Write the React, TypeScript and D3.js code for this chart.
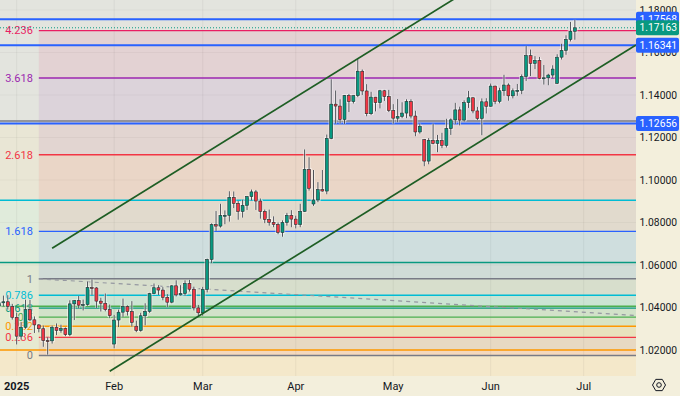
import React, { useEffect } from "react";
import * as d3 from "d3";

// daily EUR/USD bars
const dates = [
  "2024-12-23", "2024-12-24", "2024-12-26", "2024-12-27", "2024-12-30", "2024-12-31",
  "2025-01-02", "2025-01-03", "2025-01-06", "2025-01-07", "2025-01-08", "2025-01-09", "2025-01-10",
  "2025-01-13", "2025-01-14", "2025-01-15", "2025-01-16", "2025-01-17", "2025-01-20", "2025-01-21",
  "2025-01-22", "2025-01-23", "2025-01-24", "2025-01-27", "2025-01-28", "2025-01-29", "2025-01-30",
  "2025-01-31", "2025-02-03", "2025-02-04", "2025-02-05", "2025-02-06", "2025-02-07", "2025-02-10",
  "2025-02-11", "2025-02-12", "2025-02-13", "2025-02-14", "2025-02-17", "2025-02-18", "2025-02-19",
  "2025-02-20", "2025-02-21", "2025-02-24", "2025-02-25", "2025-02-26", "2025-02-27", "2025-02-28",
  "2025-03-03", "2025-03-04", "2025-03-05", "2025-03-06", "2025-03-07", "2025-03-10", "2025-03-11",
  "2025-03-12", "2025-03-13", "2025-03-14", "2025-03-17", "2025-03-18", "2025-03-19", "2025-03-20",
  "2025-03-21", "2025-03-24", "2025-03-25", "2025-03-26", "2025-03-27", "2025-03-28", "2025-03-31",
  "2025-04-01", "2025-04-02", "2025-04-03", "2025-04-04", "2025-04-07", "2025-04-08", "2025-04-09",
  "2025-04-10", "2025-04-11", "2025-04-14", "2025-04-15", "2025-04-16", "2025-04-17", "2025-04-18",
  "2025-04-21", "2025-04-22", "2025-04-23", "2025-04-24", "2025-04-25", "2025-04-28", "2025-04-29",
  "2025-04-30", "2025-05-01", "2025-05-02", "2025-05-05", "2025-05-06", "2025-05-07", "2025-05-08",
  "2025-05-09", "2025-05-12", "2025-05-13", "2025-05-14", "2025-05-15", "2025-05-16", "2025-05-19",
  "2025-05-20", "2025-05-21", "2025-05-22", "2025-05-23", "2025-05-26", "2025-05-27", "2025-05-28",
  "2025-05-29", "2025-05-30", "2025-06-02", "2025-06-03", "2025-06-04", "2025-06-05", "2025-06-06",
  "2025-06-09", "2025-06-10", "2025-06-11", "2025-06-12", "2025-06-13", "2025-06-16", "2025-06-17",
  "2025-06-18", "2025-06-19", "2025-06-20", "2025-06-23", "2025-06-24", "2025-06-25", "2025-06-26",
  "2025-06-27",
];

const opens = [
  1.0430, 1.0405, 1.0407, 1.0422, 1.0427, 1.0405,
  1.0354, 1.0265, 1.0307, 1.0390, 1.0342, 1.0318, 1.0300,
  1.0244, 1.0243, 1.0307, 1.0292, 1.0301, 1.0272, 1.0417,
  1.0432, 1.0411, 1.0414, 1.0494, 1.0492, 1.0430, 1.0420,
  1.0390, 1.0228, 1.0341, 1.0378, 1.0405, 1.0381, 1.0312,
  1.0292, 1.0361, 1.0382, 1.0465, 1.0493, 1.0482, 1.0448,
  1.0425, 1.0502, 1.0459, 1.0466, 1.0513, 1.0486, 1.0398,
  1.0375, 1.0485, 1.0626, 1.0790, 1.0783, 1.0833, 1.0834,
  1.0918, 1.0890, 1.0852, 1.0881, 1.0922, 1.0944, 1.0901,
  1.0852, 1.0815, 1.0801, 1.0791, 1.0753, 1.0800, 1.0834,
  1.0816, 1.0791, 1.0852, 1.1050, 1.0887, 1.0906, 1.0955,
  1.0948, 1.1196, 1.1357, 1.1348, 1.1285, 1.1398, 1.1369,
  1.1397, 1.1512, 1.1419, 1.1312, 1.1390, 1.1364, 1.1420,
  1.1393, 1.1327, 1.1291, 1.1299, 1.1315, 1.1369, 1.1301,
  1.1226, 1.1190, 1.1089, 1.1187, 1.1172, 1.1186, 1.1163,
  1.1242, 1.1283, 1.1330, 1.1282, 1.1364, 1.1387, 1.1325,
  1.1290, 1.1368, 1.1347, 1.1442, 1.1370, 1.1420, 1.1447,
  1.1396, 1.1420, 1.1422, 1.1487, 1.1585, 1.1549, 1.1563,
  1.1478, 1.1481, 1.1494, 1.1455, 1.1578, 1.1610, 1.1662,
  1.1700,
];

const highs = [
  1.0444, 1.0412, 1.0440, 1.0456, 1.0458, 1.0417,
  1.0376, 1.0332, 1.0437, 1.0436, 1.0358, 1.0322, 1.0315,
  1.0260, 1.0315, 1.0325, 1.0319, 1.0306, 1.0434, 1.0435,
  1.0454, 1.0437, 1.0522, 1.0533, 1.0496, 1.0446, 1.0466,
  1.0414, 1.0365, 1.0390, 1.0442, 1.0410, 1.0430, 1.0338,
  1.0375, 1.0420, 1.0469, 1.0513, 1.0505, 1.0496, 1.0463,
  1.0505, 1.0528, 1.0505, 1.0528, 1.0530, 1.0498, 1.0412,
  1.0497, 1.0630, 1.0796, 1.0854, 1.0888, 1.0857, 1.0947,
  1.0946, 1.0901, 1.0907, 1.0925, 1.0955, 1.0953, 1.0913,
  1.0861, 1.0861, 1.0829, 1.0800, 1.0810, 1.0845, 1.0858,
  1.0832, 1.0888, 1.1144, 1.1107, 1.1047, 1.0990, 1.1047,
  1.1214, 1.1474, 1.1421, 1.1380, 1.1400, 1.1405, 1.1398,
  1.1573, 1.1520, 1.1451, 1.1415, 1.1391, 1.1424, 1.1424,
  1.1424, 1.1357, 1.1381, 1.1366, 1.1380, 1.1380, 1.1326,
  1.1266, 1.1193, 1.1197, 1.1265, 1.1212, 1.1222, 1.1288,
  1.1290, 1.1363, 1.1345, 1.1375, 1.1419, 1.1389, 1.1344,
  1.1384, 1.1385, 1.1454, 1.1444, 1.1434, 1.1495, 1.1455,
  1.1431, 1.1452, 1.1497, 1.1631, 1.1614, 1.1583, 1.1579,
  1.1541, 1.1500, 1.1540, 1.1592, 1.1641, 1.1681, 1.1744,
  1.1754,
];

const lows = [
  1.0390, 1.0385, 1.0396, 1.0405, 1.0390, 1.0343,
  1.0226, 1.0250, 1.0300, 1.0336, 1.0280, 1.0283, 1.0215,
  1.0178, 1.0230, 1.0270, 1.0281, 1.0265, 1.0265, 1.0341,
  1.0396, 1.0386, 1.0408, 1.0458, 1.0398, 1.0381, 1.0382,
  1.0350, 1.0208, 1.0308, 1.0355, 1.0362, 1.0310, 1.0284,
  1.0286, 1.0316, 1.0375, 1.0462, 1.0459, 1.0434, 1.0402,
  1.0420, 1.0452, 1.0456, 1.0455, 1.0475, 1.0386, 1.0359,
  1.0361, 1.0471, 1.0609, 1.0760, 1.0776, 1.0792, 1.0804,
  1.0868, 1.0813, 1.0823, 1.0859, 1.0904, 1.0859, 1.0818,
  1.0797, 1.0785, 1.0778, 1.0745, 1.0733, 1.0785, 1.0778,
  1.0772, 1.0778, 1.0850, 1.0950, 1.0878, 1.0896, 1.0945,
  1.0933, 1.1192, 1.1265, 1.1265, 1.1264, 1.1320, 1.1360,
  1.1390, 1.1400, 1.1300, 1.1306, 1.1323, 1.1337, 1.1372,
  1.1320, 1.1265, 1.1272, 1.1291, 1.1291, 1.1290, 1.1206,
  1.1218, 1.1065, 1.1074, 1.1168, 1.1131, 1.1150, 1.1153,
  1.1212, 1.1263, 1.1257, 1.1274, 1.1339, 1.1314, 1.1282,
  1.1211, 1.1313, 1.1345, 1.1357, 1.1361, 1.1396, 1.1373,
  1.1384, 1.1396, 1.1404, 1.1466, 1.1489, 1.1522, 1.1474,
  1.1449, 1.1446, 1.1480, 1.1452, 1.1567, 1.1589, 1.1652,
  1.1660,
];

const closes = [
  1.0405, 1.0407, 1.0422, 1.0427, 1.0405, 1.0354,
  1.0265, 1.0307, 1.0390, 1.0342, 1.0318, 1.0300, 1.0244,
  1.0243, 1.0307, 1.0292, 1.0301, 1.0272, 1.0417, 1.0432,
  1.0411, 1.0414, 1.0494, 1.0492, 1.0430, 1.0420, 1.0390,
  1.0362, 1.0341, 1.0378, 1.0405, 1.0381, 1.0330, 1.0292,
  1.0361, 1.0382, 1.0465, 1.0493, 1.0482, 1.0448, 1.0425,
  1.0502, 1.0459, 1.0466, 1.0513, 1.0486, 1.0398, 1.0375,
  1.0485, 1.0626, 1.0790, 1.0783, 1.0833, 1.0834, 1.0918,
  1.0890, 1.0852, 1.0881, 1.0922, 1.0944, 1.0901, 1.0852,
  1.0815, 1.0801, 1.0791, 1.0753, 1.0800, 1.0834, 1.0816,
  1.0791, 1.0852, 1.1050, 1.0961, 1.0906, 1.0955, 1.0948,
  1.1196, 1.1357, 1.1348, 1.1285, 1.1398, 1.1369, 1.1397,
  1.1512, 1.1419, 1.1312, 1.1390, 1.1364, 1.1420, 1.1393,
  1.1327, 1.1291, 1.1299, 1.1315, 1.1369, 1.1301, 1.1226,
  1.1252, 1.1089, 1.1187, 1.1172, 1.1186, 1.1163, 1.1242,
  1.1283, 1.1330, 1.1282, 1.1364, 1.1387, 1.1325, 1.1290,
  1.1368, 1.1347, 1.1442, 1.1370, 1.1420, 1.1447, 1.1396,
  1.1420, 1.1422, 1.1487, 1.1585, 1.1549, 1.1563, 1.1478,
  1.1481, 1.1494, 1.1522, 1.1578, 1.1610, 1.1662, 1.1700,
  1.17163,
];

// price axis ticks
const priceTicks = [1.02, 1.04, 1.06, 1.08, 1.1, 1.12, 1.14, 1.16, 1.18];

// time axis
const timeLabels = ["2025", "Feb", "Mar", "Apr", "May", "Jun", "Jul"];
const timeDates = ["2025-01-02", "2025-02-03", "2025-03-03", "2025-04-01", "2025-05-01", "2025-06-02", "2025-07-01"];

// fib levels (shared by both fib tools)
const fibLevels = [0, 0.236, 0.382, 0.5, 0.618, 0.786, 1, 1.618, 2.618, 3.618, 4.236];
const fibColors = ["#787b86", "#f23645", "#ff9800", "#4caf50", "#089981", "#00bcd4", "#787b86", "#2962ff", "#f23645", "#9c27b0", "#e91e63"];

// trend-based extension (labelled, starts Jan 9)
const fibExtStart = "2025-01-09";
const fibExtPrices = [1.01741, 1.0535];
// retracement behind it, extended both ways, no labels
const fibRetPrices = [0.95336, 1.12776];

// horizontal lines with axis labels
const hLinePrices = [1.17568, 1.16341, 1.12656];

// channel: two parallel rays, [date, price]
const channelUpper: [string, number][] = [["2025-01-14", 1.0679], ["2025-06-13", 1.2075]];
const channelLower: [string, number][] = [["2025-01-31", 1.01], ["2025-06-27", 1.1457]];
// dashed trend line of the extension
const dashedLine: [string, number][] = [["2025-01-09", 1.0535], ["2025-06-27", 1.038]];

const W = 680;
const H = 396;
const plotW = 636;
const plotH = 376;
const font = "Roboto, 'Liberation Sans', sans-serif";

const parse = d3.utcParse("%Y-%m-%d");

function barIndex(d: string) {
  const i = dates.indexOf(d);
  if (i >= 0) return i;
  const last = parse(dates[dates.length - 1])!;
  const target = parse(d)!;
  const days = d3.utcDay
    .range(d3.utcDay.offset(last, 1), d3.utcDay.offset(target, 1))
    .filter((t) => t.getUTCDay() % 6 !== 0);
  return dates.length - 1 + days.length;
}

export default function App() {
  useEffect(() => {
    document.body.style.margin = "0";
  }, []);

  const x = d3.scaleLinear().domain([2.235, 145.8]).range([0, plotW]);
  const y = d3.scaleLinear().domain([1.00776, 1.18471]).range([plotH, 0]);
  const step = x(1) - x(0);
  const bodyW = step * 0.68;

  const fibPrice = (p: number[], l: number) => p[0] + l * (p[1] - p[0]);

  // ray from two anchors, extended to the right edge
  const ray = (pts: [string, number][]) => {
    const i0 = barIndex(pts[0][0]);
    const i1 = barIndex(pts[1][0]);
    const slope = (pts[1][1] - pts[0][1]) / (i1 - i0);
    const iEnd = x.invert(plotW);
    return { x1: x(i0), y1: y(pts[0][1]), x2: x(iEnd), y2: y(pts[0][1] + slope * (iEnd - i0)) };
  };

  const extX = x(barIndex(fibExtStart));

  const fibBands = (prices: number[], x0: number, alpha: number, key: string) =>
    fibLevels.slice(1).map((l, k) => {
      const yTop = y(fibPrice(prices, l));
      const yBot = y(fibPrice(prices, fibLevels[k]));
      return (
        <rect key={key + k} x={x0} y={yTop} width={plotW - x0} height={yBot - yTop}
          fill={fibColors[k + 1]} fillOpacity={alpha} />
      );
    });

  const fibLines = (prices: number[], x0: number, key: string) =>
    fibLevels.map((l, k) => (
      <line key={key + k} x1={x0} x2={plotW} y1={y(fibPrice(prices, l))} y2={y(fibPrice(prices, l))}
        stroke={fibColors[k]} strokeWidth={1.4} />
    ));

  const up = "#089981";
  const down = "#f23645";
  const last = closes[closes.length - 1];

  const up1 = ray(channelUpper);
  const lo1 = ray(channelLower);
  const dl = ray(dashedLine);

  // gear icon points
  const hex = d3.range(6).map((k) => {
    const a = (Math.PI / 3) * k;
    return [659 + 6.5 * Math.cos(a), 385 + 6.5 * Math.sin(a)];
  });

  const axisX = W - 3;

  return (
    <svg width={W} height={H} style={{ display: "block", fontFamily: font }}>
      <defs>
        <clipPath id="plot">
          <rect x={0} y={0} width={plotW} height={plotH} />
        </clipPath>
      </defs>
      <rect x={0} y={0} width={W} height={H} fill="#f3efdc" />

      <g clipPath="url(#plot)">
        {fibBands(fibRetPrices, 0, 0.08, "rb")}
        {fibBands(fibExtPrices, extX, 0.09, "eb")}

        {/* grid */}
        {timeDates.map((d) => (
          <line key={d} x1={x(barIndex(d))} x2={x(barIndex(d))} y1={0} y2={plotH} stroke="#000" strokeOpacity={0.05} />
        ))}
        {priceTicks.map((p) => (
          <line key={p} x1={0} x2={plotW} y1={y(p)} y2={y(p)} stroke="#000" strokeOpacity={0.035} />
        ))}

        {fibLines(fibRetPrices, 0, "rl")}
        {fibLines(fibExtPrices, extX, "el")}

        {fibLevels.map((l, k) => (
          <text key={"t" + k} x={extX - 6} y={y(fibPrice(fibExtPrices, l))} dy="0.35em" textAnchor="end"
            fontSize={11} fill={fibColors[k]}>
            {String(l)}
          </text>
        ))}

        {hLinePrices.map((p) => (
          <line key={p} x1={0} x2={plotW} y1={y(p)} y2={y(p)} stroke="#2962ff" strokeWidth={2} />
        ))}

        <line {...dl} stroke="#9598a1" strokeWidth={1.2} strokeDasharray="4 4" />

        <line x1={0} x2={plotW} y1={y(last)} y2={y(last)} stroke={up} strokeWidth={1} strokeDasharray="1 2" />

        {/* candles */}
        {dates.map((d, i) => {
          const cx = x(i);
          const o = opens[i], c = closes[i];
          const top = y(Math.max(o, c));
          const h = Math.max(1, Math.abs(y(o) - y(c)));
          const col = c >= o ? up : down;
          return (
            <g key={d}>
              <line x1={cx} x2={cx} y1={y(highs[i])} y2={y(lows[i])} stroke="#fff" strokeOpacity={0.6} strokeWidth={2.6} />
              <rect x={cx - bodyW / 2} y={top} width={bodyW} height={h} fill="none" stroke="#fff" strokeOpacity={0.6} strokeWidth={2.4} />
              <line x1={cx} x2={cx} y1={y(highs[i])} y2={y(lows[i])} stroke="#3a3d44" strokeWidth={0.9} />
              <rect x={cx - bodyW / 2} y={top} width={bodyW} height={h} fill={col} stroke="#24302e" strokeWidth={0.6} />
            </g>
          );
        })}

        <line {...up1} stroke="#1e5e24" strokeWidth={1.7} />
        <line {...lo1} stroke="#1e5e24" strokeWidth={1.7} />
      </g>

      {/* price axis */}
      {priceTicks.map((p) => (
        <text key={p} x={axisX} y={y(p)} dy="0.35em" textAnchor="end" fontSize={10.3} fill="#131722">
          {p.toFixed(5)}
        </text>
      ))}
      {hLinePrices.map((p) => (
        <g key={"b" + p}>
          <rect x={plotW} y={y(p) - 7.5} width={W - plotW - 1} height={15} rx={2} fill="#2962ff" />
          <text x={axisX} y={y(p)} dy="0.35em" textAnchor="end" fontSize={10.3} fill="#fff">{p.toFixed(5)}</text>
        </g>
      ))}
      <rect x={plotW} y={y(last) - 7.5} width={W - plotW - 1} height={15} rx={2} fill={up} />
      <text x={axisX} y={y(last)} dy="0.35em" textAnchor="end" fontSize={10.3} fill="#fff">{last.toFixed(5)}</text>

      {/* time axis */}
      {timeLabels.map((t, k) => (
        <text key={t} x={x(barIndex(timeDates[k]))} y={386} dy="0.35em" textAnchor="middle" fontSize={11}
          fontWeight={k === 0 ? 700 : 400} fill="#131722">
          {t}
        </text>
      ))}

      <polygon points={hex.map((p) => p.join(",")).join(" ")} fill="none" stroke="#131722" strokeWidth={1} />
      <circle cx={659} cy={385} r={2.3} fill="none" stroke="#131722" strokeWidth={1} />
    </svg>
  );
}
